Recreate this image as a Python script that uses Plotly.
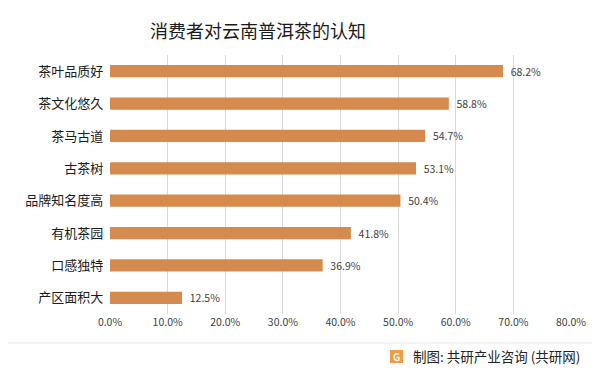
import plotly.graph_objects as go

categories = ["茶叶品质好", "茶文化悠久", "茶马古道", "古茶树", "品牌知名度高", "有机茶园", "口感独特", "产区面积大"]
values = [68.2, 58.8, 54.7, 53.1, 50.4, 41.8, 36.9, 12.5]
tick_vals = [0, 10, 20, 30, 40, 50, 60, 70, 80]
tick_text = [f"{v:.1f}%" for v in tick_vals]

FONT = "Noto Sans CJK SC"
PW = 461.0
PH = 259.0

fig = go.Figure(go.Bar(
    y=categories,
    x=values,
    orientation="h",
    marker=dict(color="#D48B4D", line=dict(width=0)),
    text=[f"  {v:.1f}%" for v in values],
    textposition="outside",
    constraintext="none",
    textfont=dict(size=10.5, color="#404040", family=FONT),
    cliponaxis=False,
))

fig.update_layout(
    width=592, height=364,
    margin=dict(l=102, r=29, t=47, b=58, autoexpand=False),
    paper_bgcolor="white",
    plot_bgcolor="white",
    showlegend=False,
    bargap=0.62,
    title=dict(text="消费者对云南普洱茶的认知", x=(258 - 8) / 592, xanchor="center",
               y=1 - (32 - 8) / 364, yanchor="middle",
               font=dict(size=18, color="#1a1a1a", family=FONT)),
    xaxis=dict(range=[0, 80], tickvals=tick_vals, ticktext=tick_text,
               showgrid=True, gridcolor="#D9D9D9", gridwidth=1, zeroline=False,
               showline=False, ticks="", tickfont=dict(size=10.5, color="#404040", family=FONT)),
    yaxis=dict(autorange="reversed", showgrid=False, ticks="", ticklen=0,
               tickfont=dict(size=13, color="#1a1a1a", family=FONT), ticksuffix="  "),
    shapes=[
        dict(type="line", xref="paper", yref="paper", x0=-102 / PW, x1=1 + 29 / PW,
             y0=-29 / PH, y1=-29 / PH, line=dict(color="#E6E6E6", width=1)),
        dict(type="rect", xref="paper", yref="paper",
             x0=(390 - 110) / PW, x1=(403 - 110) / PW,
             y0=-(363 - 314) / PH, y1=-(350 - 314) / PH,
             fillcolor="#F39A45", line=dict(width=0)),
    ],
    annotations=[
        dict(text="制图: 共研产业咨询 (共研网)", xref="paper", yref="paper",
             x=1 + 11 / PW, y=-42 / PH, xanchor="right", yanchor="middle", showarrow=False,
             font=dict(size=13.5, color="#222222", family=FONT)),
        dict(text="<b>G</b>", xref="paper", yref="paper",
             x=(396.5 - 110) / PW, y=-42.5 / PH, xanchor="center", yanchor="middle", showarrow=False,
             font=dict(size=10, color="white", family=FONT)),
    ],
)

fig.write_html("out.html")
